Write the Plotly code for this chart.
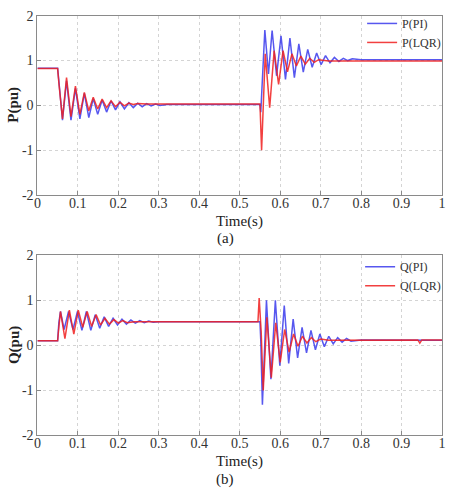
import plotly.graph_objects as go

# ---------------- data ----------------
# (a) Active power P(pu)
t_p_pi = [0, 0.05, 0.053, 0.062, 0.072, 0.083, 0.094, 0.105, 0.116, 0.127, 0.138, 0.149, 0.16,
          0.171, 0.182, 0.193, 0.204, 0.215, 0.226, 0.237, 0.248, 0.259, 0.27, 0.281, 0.292, 0.303,
          0.32, 0.55, 0.552, 0.557, 0.562, 0.571, 0.58, 0.591, 0.602, 0.613, 0.624, 0.635, 0.646,
          0.657, 0.668, 0.679, 0.69, 0.701, 0.712, 0.723, 0.734, 0.745, 0.756, 0.767, 0.778, 0.8, 1.0]
p_pi = [0.83, 0.83, 0.55, -0.33, 0.55, -0.33, 0.38, -0.3, 0.27, -0.27, 0.15, -0.2, 0.12,
        -0.15, 0.1, -0.1, 0.08, -0.08, 0.06, -0.05, 0.05, -0.03, 0.04, -0.01, 0.03, 0.0,
        0.02, 0.02, -0.15, 0.8, 1.68, 0.7, 1.67, 0.66, 1.55, 0.58, 1.5, 0.62, 1.37,
        0.74, 1.25, 0.85, 1.17, 0.91, 1.11, 0.95, 1.07, 0.98, 1.05, 1.0, 1.04, 1.02, 1.02]

t_p_lqr = [0, 0.05, 0.053, 0.062, 0.072, 0.083, 0.094, 0.105, 0.116, 0.127, 0.138, 0.149, 0.16,
           0.171, 0.182, 0.193, 0.204, 0.215, 0.226, 0.237, 0.248, 0.27, 0.55, 0.554, 0.563,
           0.574, 0.585, 0.596, 0.607, 0.618, 0.629, 0.64, 0.651, 0.662, 0.673, 0.684, 0.695,
           0.72, 1.0]
p_lqr = [0.82, 0.82, 0.5, -0.3, 0.62, -0.25, 0.43, -0.2, 0.29, -0.12, 0.18, -0.08, 0.14,
         -0.05, 0.1, -0.03, 0.07, -0.01, 0.05, 0.02, 0.04, 0.03, 0.03, -1.0, 1.15,
         -0.05, 1.22, 0.47, 1.22, 0.75, 1.15, 0.88, 1.1, 0.92, 1.05, 0.96, 1.02,
         0.99, 0.99]

# (b) Reactive power Q(pu)
t_q_pi = [0, 0.05, 0.053, 0.057, 0.066, 0.077, 0.088, 0.099, 0.11, 0.121, 0.132, 0.143, 0.154,
          0.165, 0.176, 0.187, 0.198, 0.209, 0.22, 0.231, 0.242, 0.253, 0.264, 0.275, 0.286,
          0.3, 0.55, 0.552, 0.556, 0.566, 0.577, 0.588, 0.599, 0.61, 0.621, 0.632, 0.643,
          0.654, 0.665, 0.676, 0.687, 0.698, 0.709, 0.72, 0.731, 0.742, 0.753, 0.764, 0.775,
          0.8, 1.0]
q_pi = [0.1, 0.1, 0.5, 0.75, 0.35, 0.75, 0.35, 0.75, 0.33, 0.75, 0.33, 0.68, 0.38,
        0.63, 0.42, 0.6, 0.45, 0.58, 0.47, 0.56, 0.49, 0.55, 0.5, 0.54, 0.51,
        0.52, 0.52, 0.1, -1.32, 1.0, -0.75, 1.0, -0.45, 0.88, -0.4, 0.58, -0.28,
        0.4, -0.17, 0.33, -0.1, 0.25, -0.03, 0.2, 0.03, 0.17, 0.07, 0.15, 0.09,
        0.12, 0.11]

t_q_lqr = [0, 0.05, 0.053, 0.057, 0.068, 0.079, 0.09, 0.101, 0.112, 0.123, 0.134, 0.145, 0.156,
           0.167, 0.178, 0.189, 0.2, 0.211, 0.222, 0.24, 0.545, 0.548, 0.553, 0.558, 0.567,
           0.578, 0.589, 0.6, 0.611, 0.622, 0.633, 0.644, 0.655, 0.666, 0.677, 0.688, 0.7,
           0.72, 0.94, 0.945, 0.95, 1.0]
q_lqr = [0.1, 0.1, 0.4, 0.75, 0.15, 0.78, 0.25, 0.78, 0.4, 0.75, 0.42, 0.68, 0.45,
         0.6, 0.47, 0.57, 0.49, 0.55, 0.5, 0.52, 0.52, 1.05, 0.3, -1.0, 0.62,
         -0.72, 0.5, -0.38, 0.35, -0.15, 0.25, -0.02, 0.2, 0.05, 0.17, 0.08, 0.14,
         0.11, 0.12, 0.05, 0.12, 0.12]

x_ticks = [0, 0.1, 0.2, 0.3, 0.4, 0.5, 0.6, 0.7, 0.8, 0.9, 1]
x_tick_labels = ["0", "0.1", "0.2", "0.3", "0.4", "0.5", "0.6", "0.7", "0.8", "0.9", "1"]
y_ticks = [-2, -1, 0, 1, 2]
y_tick_labels = ["-2", "-1", "0", "1", "2"]

# ---------------- styling ----------------
W, H = 451, 489
SERIF = "Liberation Serif"
BLUE = "rgba(45,45,235,0.8)"
RED = "rgba(240,30,30,0.85)"

fig = go.Figure()
fig.add_trace(go.Scatter(x=t_p_pi, y=p_pi, mode="lines", name="P(PI)",
                         line=dict(color=BLUE, width=1.5), xaxis="x", yaxis="y", legend="legend"))
fig.add_trace(go.Scatter(x=t_p_lqr, y=p_lqr, mode="lines", name="P(LQR)",
                         line=dict(color=RED, width=1.5), xaxis="x", yaxis="y", legend="legend"))
fig.add_trace(go.Scatter(x=t_q_pi, y=q_pi, mode="lines", name="Q(PI)",
                         line=dict(color=BLUE, width=1.5), xaxis="x2", yaxis="y2", legend="legend2"))
fig.add_trace(go.Scatter(x=t_q_lqr, y=q_lqr, mode="lines", name="Q(LQR)",
                         line=dict(color=RED, width=1.5), xaxis="x2", yaxis="y2", legend="legend2"))

L, R = 34, 446
xd = [L / W, R / W]
top_dom = [1 - 194 / H, 1 - 9 / H]
bot_dom = [1 - 442 / H, 1 - 256 / H]

def xaxis(anchor):
    return dict(domain=xd, anchor=anchor, range=[0, 1], tickvals=x_ticks, ticktext=x_tick_labels,
                showgrid=True, gridcolor="#d4d4d4", griddash="dot", gridwidth=1,
                showline=True, linecolor="#8a8a8a", linewidth=1, mirror=True,
                ticks="inside", ticklen=4, tickcolor="#8a8a8a", zeroline=False,
                ticklabelstandoff=-5,
                tickfont=dict(family=SERIF, size=14, color="#333333"))

def yaxis(anchor, dom):
    return dict(domain=dom, anchor=anchor, range=[-2, 2], tickvals=y_ticks, ticktext=y_tick_labels,
                showgrid=True, gridcolor="#d4d4d4", griddash="dot", gridwidth=1,
                showline=True, linecolor="#8a8a8a", linewidth=1, mirror=True,
                ticks="inside", ticklen=4, tickcolor="#8a8a8a", zeroline=False,
                tickfont=dict(family=SERIF, size=14, color="#333333"))

leg_common = dict(xanchor="right", yanchor="top", bgcolor="rgba(0,0,0,0)",
                  font=dict(family=SERIF, size=12, color="#333333"),
                  itemwidth=30, tracegroupgap=0)

fig.update_layout(
    width=W, height=H, autosize=False,
    margin=dict(l=0, r=0, t=0, b=0),
    paper_bgcolor="white", plot_bgcolor="white",
    xaxis=xaxis("y"), yaxis=yaxis("x", top_dom),
    xaxis2=xaxis("y2"), yaxis2=yaxis("x2", bot_dom),
    legend=dict(x=0.998, y=1 - 2 / H, **leg_common),
    legend2=dict(x=0.998, y=1 - 253 / H, **leg_common),
    showlegend=True,
)

ann = [
    dict(text="Time(s)", x=(L + R) / 2 / W, y=1 - 221 / H, yanchor="middle"),
    dict(text="(a)", x=225 / W, y=1 - 239 / H, yanchor="middle"),
    dict(text="Time(s)", x=(L + R) / 2 / W, y=1 - 469 / H, yanchor="middle"),
    dict(text="(b)", x=225 / W, y=1 - 477 / H, yanchor="top"),
]
for a in ann:
    fig.add_annotation(xref="paper", yref="paper", showarrow=False, xanchor="center",
                       font=dict(family=SERIF, size=15, color="#222222"), **a)
for txt, yc in [("P(pu)", 101), ("Q(pu)", 349)]:
    fig.add_annotation(xref="paper", yref="paper", showarrow=False, text="<b>" + txt + "</b>",
                       x=10 / W, y=1 - yc / H, xanchor="center", yanchor="middle", textangle=-90,
                       font=dict(family=SERIF, size=15, color="#222222"))

fig.write_html("out.html")
